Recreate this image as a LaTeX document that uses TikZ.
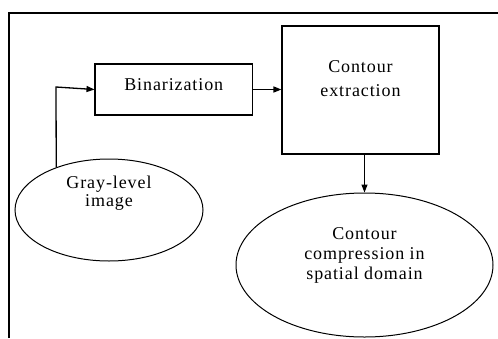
\documentclass[tikz,border=0pt]{standalone}
\usepackage{fontspec}
\setmainfont{Liberation Serif}
\newfontfamily\lblfont[LetterSpace=5]{Liberation Serif}
\usetikzlibrary{arrows.meta,shapes.geometric}
\tikzset{
  lbl/.style={font=\lblfont\fontsize{18pt}{20pt}\selectfont, align=center, inner sep=0pt, text height=12pt},
  blk/.style={lbl, draw, line width=1.1pt, rectangle},
  oval/.style={lbl, draw, line width=1pt, ellipse},
  arr/.style={line width=1.3pt, -{Triangle[length=8pt,width=6pt]}},
  frame/.style={line width=2pt}
}
\begin{document}
\begin{tikzpicture}[x=1pt,y=-1pt]
  \useasboundingbox (0,0) rectangle (498,338);
  % page frame (top and left edges)
  \draw[frame] (9,338) -- (9,13) -- (498,13);
  % process blocks
  \node[blk, minimum width=157.5pt, minimum height=51pt, text depth=11pt] (bin) at (173.75,89.5) {Binarization};
  \node[blk, minimum width=157pt, minimum height=128pt, text height=36pt, text depth=24pt,
        font=\lblfont\fontsize{18pt}{24pt}\selectfont] (ext) at (360.5,90) {Contour\\extraction};
  % input and output
  \node[oval, minimum width=188pt, minimum height=102pt, text height=30.5pt, text depth=37.5pt,
        font=\lblfont\fontsize{18pt}{18.5pt}\selectfont] (gray) at (109,210) {Gray-level\\image};
  \node[oval, minimum width=257pt, minimum height=144pt, text height=52pt, text depth=24pt] (comp) at (364.5,265) {Contour\\compression in\\spatial domain};
  % connectors
  \coordinate (bend) at (56,87);
  \draw[arr] (gray.141.3) -- (bend) -- (bin.west);
  \draw[arr] (bin.east) -- (bin.east -| ext.west);
  \draw[arr] (ext.south -| comp.north) -- (comp.north);
\end{tikzpicture}
\end{document}
